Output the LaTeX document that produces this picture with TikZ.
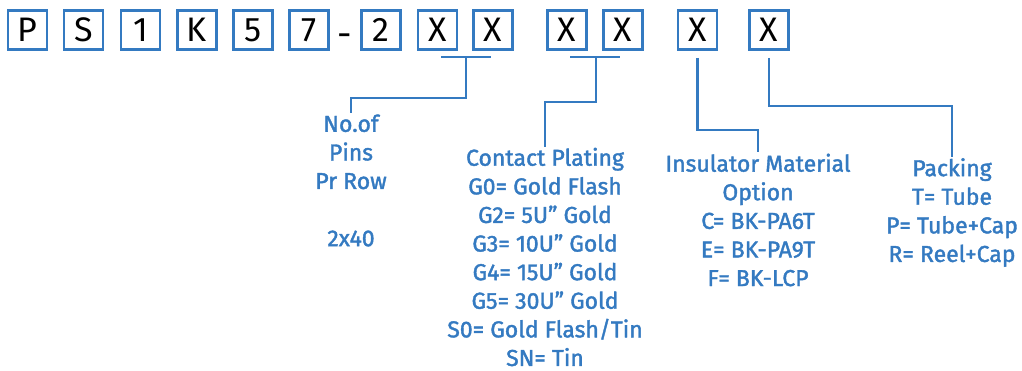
\documentclass[tikz,border=0pt]{standalone}
\usepackage{fontspec}
\setmainfont{Fira Sans}
\newfontfamily\descfont[FakeBold=1.6,Ligatures=TeX]{Fira Sans}
\usetikzlibrary{calc}
\definecolor{lblue}{RGB}{52,122,193}
\begin{document}
\begin{tikzpicture}[x=1pt,y=-1pt,
  letterbox/.style={draw=lblue,line width=2.6pt,minimum width=39pt,minimum height=39pt,inner sep=0pt,
    font=\fontsize{34}{34}\selectfont,text=black},
  desc/.style={text=lblue,align=center,inner sep=1pt,font=\descfont\fontsize{23}{28.6}\selectfont},
  conn/.style={draw=lblue,line width=2.6pt}]
\useasboundingbox (0,0) rectangle (1022,371);
\node[letterbox] (b1) at (27.5,30) {P};
\node[letterbox] (b2) at (83.5,30) {S};
\node[letterbox] (b3) at (140.5,30) {1};
\node[letterbox] (b4) at (197,30) {K};
\node[letterbox] (b5) at (253,30) {5};
\node[letterbox] (b6) at (309,30) {7};
\node[text=black,inner sep=0pt,font=\fontsize{36}{36}\selectfont] (dash) at (344.5,40) {-};
\node[letterbox] (b7) at (381,30) {2};
\node[letterbox] (b8) at (437.5,30) {X};
\node[letterbox] (b9) at (493,30) {X};
\node[letterbox] (b10) at (567,30) {X};
\node[letterbox] (b11) at (623,30) {X};
\node[letterbox] (b12) at (697.5,30) {X};
\node[letterbox] (b13) at (769,30) {X};

\node[desc] (pins) at (351,180.5) {No.of\\Pins\\Pr Row\\[28.6pt]2x40};
\node[desc] (plating) at (545,257) {Contact Plating\\G0= Gold Flash\\G2= 5U” Gold\\G3= 10U” Gold\\G4= 15U” Gold\\G5= 30U” Gold\\S0= Gold Flash/Tin\\SN= Tin};
\node[desc] (insul) at (758,220) {Insulator Material\\Option\\C= BK-PA6T\\E= BK-PA9T\\F= BK-LCP};
\node[desc] (pack) at (952,212.5) {Packing\\T= Tube\\P= Tube+Cap\\R= Reel+Cap};

% pins bracket
\coordinate (p1) at (441,57);
\coordinate (p2) at (491,57);
\coordinate (pm) at (466,57);
\draw[conn] (p1) -- (p2);
\draw[conn] (pm) -- (466,98) -| (pins.north);
% plating bracket
\coordinate (q1) at (570,57);
\coordinate (q2) at (620,57);
\coordinate (qm) at (596,57);
\draw[conn] (q1) -- (q2);
\draw[conn] (qm) -- (596,102) -| (plating.north);
% insulator
\draw[conn] (b12.south) ++(0,7) -- (697.5,130) -| (insul.north);
% packing
\draw[conn] (b13.south) ++(0,7) -- (769,106) -| (pack.north);
\end{tikzpicture}
\end{document}
